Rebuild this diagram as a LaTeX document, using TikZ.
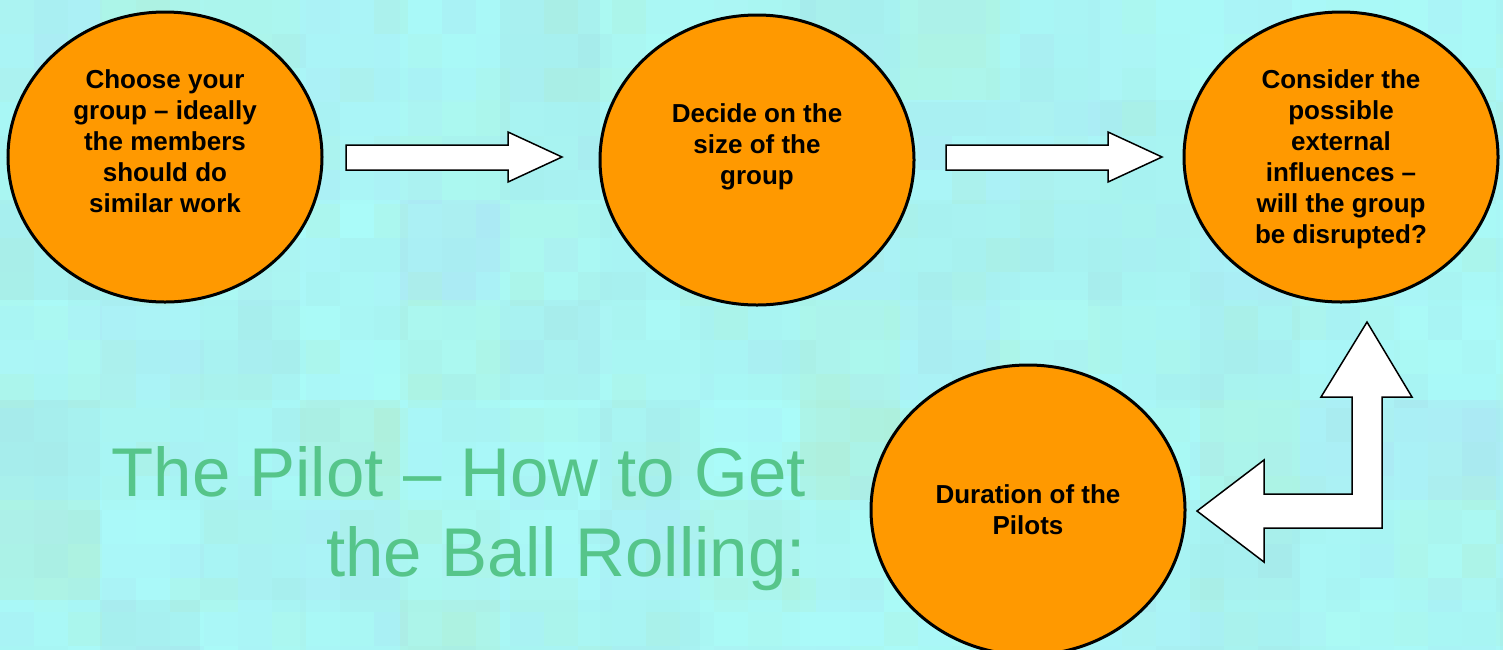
\documentclass[tikz,border=0pt]{standalone}
\usepackage{fontspec}
\setmainfont{Liberation Sans}
\usetikzlibrary{shapes.geometric}

\definecolor{bgA}{RGB}{170,252,250}
\definecolor{bgB}{RGB}{176,234,206}
\definecolor{bgC}{RGB}{172,224,240}
\definecolor{bgD}{RGB}{164,226,226}
\definecolor{stepfill}{RGB}{255,153,0}
\definecolor{titlegreen}{RGB}{86,197,138}

\tikzset{
  stepoval/.style={ellipse, draw=black, fill=stepfill, line width=3pt,
    minimum width=314pt, minimum height=290pt, inner sep=0pt},
  steptext/.style={align=center, inner sep=0pt,
    font=\fontsize{26}{31}\selectfont\bfseries},
  blockarrow/.style={fill=white, draw=black, line width=1.5pt, line join=miter},
  heading/.style={align=right, inner sep=0pt, text=titlegreen,
    font=\fontsize{69}{80}\selectfont}
}

\begin{document}
\begin{tikzpicture}[x=1pt, y=-1pt]
  \clip (0,0) rectangle (1503,649);

  % tiled background: coarse tiles, then finer translucent tiles
  \pgfmathsetseed{12}
  \foreach \i in {0,...,15} {
    \foreach \j in {0,...,6} {
      \pgfmathsetmacro\ma{int(30+70*rnd)}
      \pgfmathsetmacro\kk{int(3*rnd)}
      \ifcase\kk \colorlet{tint}{bgB}\or \colorlet{tint}{bgC}\or \colorlet{tint}{bgD}\else \colorlet{tint}{bgB}\fi
      \fill[bgA!\ma!tint] (\i*100,\j*100) rectangle ++(100,100);
    }
  }
  \foreach \i in {0,...,44} {
    \foreach \j in {0,...,19} {
      \pgfmathsetmacro\ma{int(40+60*rnd)}
      \pgfmathsetmacro\kk{int(3*rnd)}
      \ifcase\kk \colorlet{tint}{bgB}\or \colorlet{tint}{bgC}\or \colorlet{tint}{bgD}\else \colorlet{tint}{bgB}\fi
      \fill[bgA!\ma!tint, opacity=0.45] (\i*34,\j*34) rectangle ++(34,34);
    }
  }

  % steps
  \node[stepoval] (e1) at (165,157) {};
  \node[stepoval] (e2) at (757,160) {};
  \node[stepoval] (e3) at (1341,157) {};
  \node[stepoval] (e4) at (1028,510) {};

  \node[steptext] (t1) at ([yshift=16pt]e1.center)
    {Choose your\\group – ideally\\the members\\should do\\similar work};
  \node[steptext] (t2) at ([yshift=13pt]e2.center)
    {Decide on the\\size of the\\group};
  \node[steptext] (t3) at ([yshift=-2pt]e3.center)
    {Consider the\\possible\\external\\influences –\\will the group\\be disrupted?};
  \node[steptext] (t4) at (e4.center)
    {Duration of the\\Pilots};

  % block arrows
  \draw[blockarrow] (346,145) -- (508,145) -- (508,132) -- (562,157)
    -- (508,182) -- (508,170) -- (346,170) -- cycle;
  \draw[blockarrow] (946,145) -- (1108,145) -- (1108,132) -- (1162,157)
    -- (1108,182) -- (1108,170) -- (946,170) -- cycle;
  \draw[blockarrow] (1367,322) -- (1412,397) -- (1382,397) -- (1382,528)
    -- (1264,528) -- (1264,562) -- (1197,511) -- (1264,460) -- (1264,494)
    -- (1352,494) -- (1352,397) -- (1321,397) -- cycle;

  % heading
  \node[heading, anchor=north east] (title) at (806,446)
    {The Pilot – How to Get\\the Ball Rolling:};
\end{tikzpicture}
\end{document}
